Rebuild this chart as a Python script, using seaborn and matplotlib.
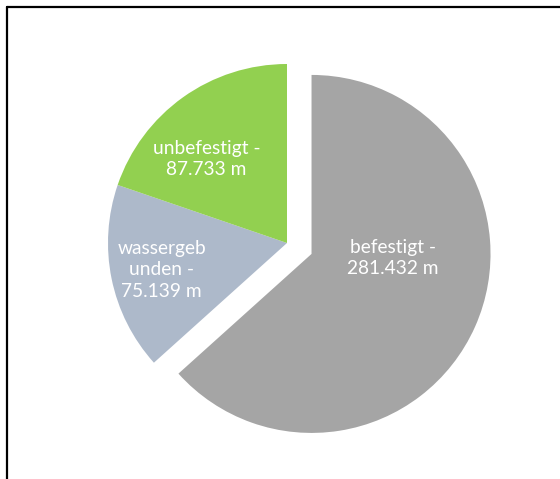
import matplotlib
matplotlib.use('Agg')
import matplotlib.pyplot as plt
from matplotlib.lines import Line2D
import seaborn as sns

# Daten
kategorien = ['befestigt', 'wassergeb\nunden', 'unbefestigt']
laenge_m = [281432, 75139, 87733]
farben = ['#A5A5A5', '#ADB9CA', '#92D050']
explode = [0.15, 0, 0]

# Layout (Label-Positionen in Kreiskoordinaten)
label_pos = [(0.59, -0.085), (-0.70, -0.15), (-0.45, 0.47)]

sns.set_theme(style='white')
plt.rcParams['font.family'] = ['Lato', 'DejaVu Sans']

fig = plt.figure(figsize=(5.6, 4.79), dpi=100)
ax = fig.add_axes([0, 0, 1, 1])

wedges, _ = ax.pie(laenge_m, colors=farben, explode=explode, startangle=90,
                   counterclock=False, radius=1.0,
                   wedgeprops={'linewidth': 0})

def fmt(v):
    return f"{v:,}".replace(',', '.') + ' m'

for name, v, (x, y) in zip(kategorien, laenge_m, label_pos):
    ax.text(x, y, f"{name} -\n{fmt(v)}", ha='center', va='center',
            color='white', fontsize=13.8, linespacing=1.3)

# Achsen so, dass Mittelpunkt bei (287, 243) px, Radius 178 px
px = 179.0
ax.set_xlim(-287 / px, (560 - 287) / px)
ax.set_ylim(-(479 - 243) / px, 243 / px)
ax.set_aspect('auto')
ax.axis('off')

# Rahmen (links und oben)
fig.add_artist(Line2D([7 / 560, 7 / 560], [0, 1 - 7 / 479], color='black',
                      linewidth=1.6, transform=fig.transFigure))
fig.add_artist(Line2D([7 / 560, 1], [1 - 7 / 479, 1 - 7 / 479], color='black',
                      linewidth=1.6, transform=fig.transFigure))

fig.savefig('out.png', dpi=100)
